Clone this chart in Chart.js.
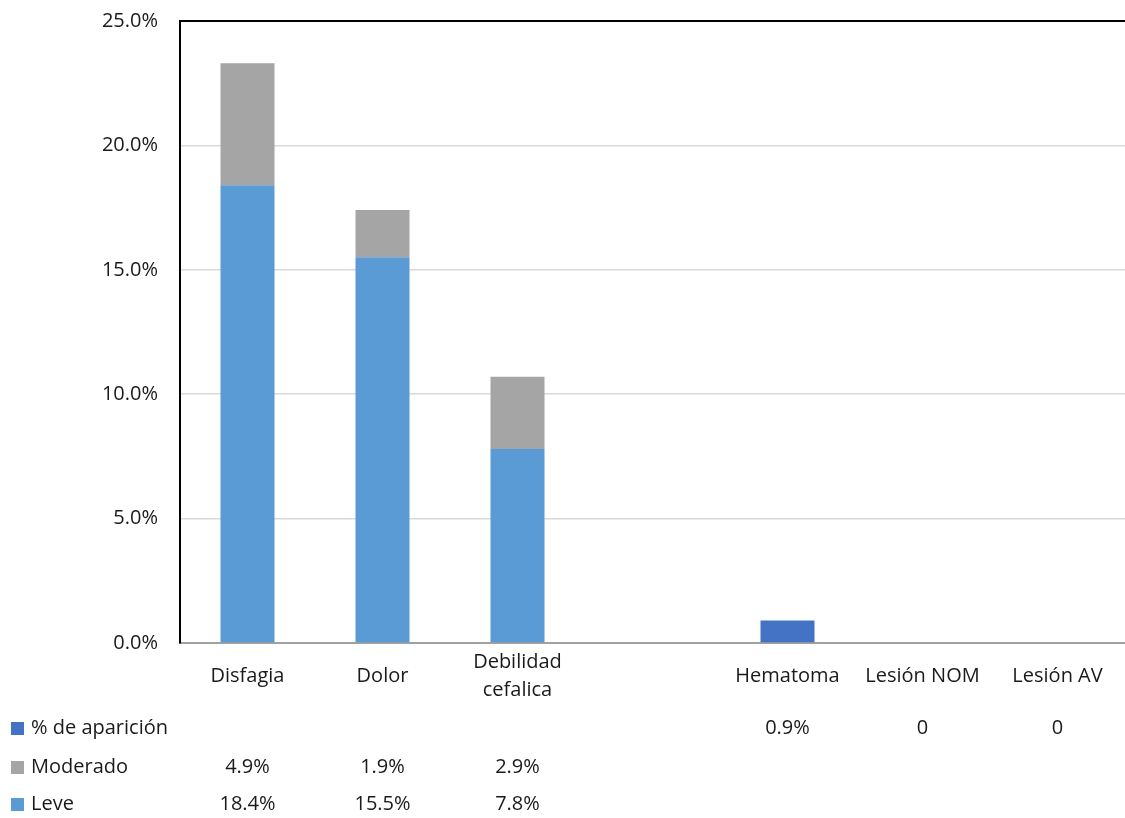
<!DOCTYPE html>
<html>
<head>
<meta charset="utf-8">
<script src="https://cdn.jsdelivr.net/npm/chart.js@4"></script>
<style>
  html, body { margin: 0; padding: 0; background: #fff; }
  #wrap { width: 1125px; height: 818px; position: relative; }
</style>
</head>
<body>
<div id="wrap"><canvas id="chart"></canvas></div>
<script>
// Categories (the fourth one is an empty gap column)
const categories = ["Disfagia", "Dolor", ["Debilidad", "cefalica"], "", "Hematoma", "Lesión NOM", "Lesión AV"];

// Series values in percent
const leve = [18.4, 15.5, 7.8, null, null, null, null];
const moderado = [4.9, 1.9, 2.9, null, null, null, null];
const aparicion = [null, null, null, null, 0.9, 0, 0];

// Y axis ticks
const yTicks = [0, 5, 10, 15, 20, 25];

const FONT = "'Open Sans', sans-serif";
const TEXT = '#1a1a1a';

function fmt(v) {
    if (v === null || v === undefined) return '';
    if (v === 0) return '0';
    return v.toFixed(1) + '%';
}

// Top border of the plot area plus the data table under the axis
const tablePlugin = {
    id: 'dataTable',
    afterDraw(chart) {
        const ctx = chart.ctx;
        const area = chart.chartArea;
        const x = chart.scales.x;

        ctx.save();
        ctx.strokeStyle = '#000';
        ctx.lineWidth = 2;
        ctx.beginPath();
        ctx.moveTo(area.left - 1, area.top);
        ctx.lineTo(area.right, area.top);
        ctx.stroke();

        // rows listed top to bottom: % de aparición, Moderado, Leve
        const rows = [2, 1, 0];
        const rowY = [728, 767, 804];
        ctx.font = '20px ' + FONT;
        ctx.textBaseline = 'middle';
        rows.forEach((di, r) => {
            const ds = chart.data.datasets[di];
            const y = rowY[r];
            ctx.fillStyle = ds.backgroundColor;
            ctx.fillRect(11, y - 6, 13, 13);
            ctx.fillStyle = TEXT;
            ctx.textAlign = 'left';
            ctx.fillText(ds.label, 31, y);
            ctx.textAlign = 'center';
            ds.data.forEach((v, i) => {
                const t = fmt(v);
                if (t) ctx.fillText(t, x.getPixelForValue(i), y);
            });
        });
        ctx.restore();
    }
};

new Chart(document.getElementById('chart'), {
    type: 'bar',
    data: {
        labels: categories,
        datasets: [
            { label: 'Leve', data: leve, backgroundColor: '#5B9BD5' },
            { label: 'Moderado', data: moderado, backgroundColor: '#A5A5A5' },
            { label: '% de aparición', data: aparicion, backgroundColor: '#4472C4' }
        ]
    },
    options: {
        responsive: true,
        maintainAspectRatio: false,
        animation: false,
        layout: { padding: { top: 21, right: 0, left: 0, bottom: 0 } },
        datasets: {
            bar: { categoryPercentage: 1, barPercentage: 0.4 }
        },
        scales: {
            x: {
                stacked: true,
                grid: { display: false, drawTicks: false },
                border: { display: true, color: '#a0a0a0', width: 2 },
                ticks: {
                    color: TEXT,
                    font: { family: FONT, size: 20, lineHeight: 1.4 },
                    padding: 19,
                    crossAlign: 'center',
                    maxRotation: 0,
                    autoSkip: false
                },
                afterFit(scale) {
                    scale.height = 175;
                    scale.paddingLeft = 0;
                    scale.paddingRight = 0;
                }
            },
            y: {
                stacked: true,
                min: 0,
                max: 25,
                afterBuildTicks(scale) { scale.ticks = yTicks.map(v => ({ value: v })); },
                grid: { color: '#d9d9d9', lineWidth: 1.5, drawTicks: false },
                border: { display: true, color: '#000', width: 2 },
                ticks: {
                    color: TEXT,
                    font: { family: FONT, size: 20 },
                    padding: 22,
                    callback: v => v.toFixed(1) + '%'
                },
                afterFit(scale) {
                    scale.width = 180;
                    scale.paddingTop = 0;
                    scale.paddingBottom = 0;
                }
            }
        },
        plugins: {
            legend: { display: false },
            tooltip: { enabled: false }
        }
    },
    plugins: [tablePlugin]
});
</script>
</body>
</html>
